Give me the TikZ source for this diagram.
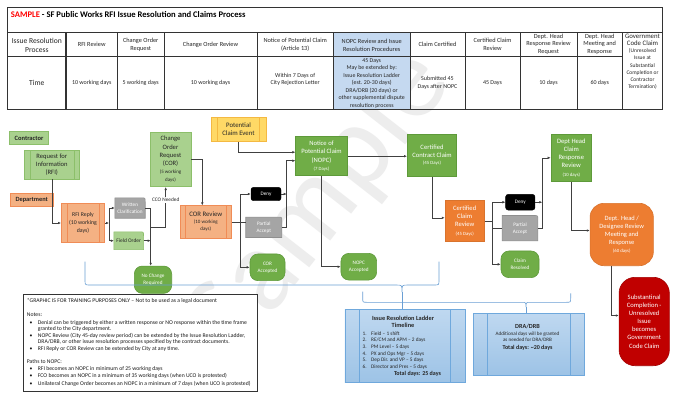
\documentclass[tikz,border=0pt]{standalone}
\usepackage{fontspec}
\setmainfont{Carlito}
\usetikzlibrary{arrows.meta,backgrounds}
\definecolor{lgreen}{HTML}{A9D18E}
\definecolor{lgreenb}{HTML}{8CBF6A}
\definecolor{dgreen}{HTML}{70AD47}
\definecolor{dgreenb}{HTML}{5E9A3A}
\definecolor{salmon}{HTML}{F4B183}
\definecolor{salmonb}{HTML}{F08C56}
\definecolor{orng}{HTML}{ED7D31}
\definecolor{orngb}{HTML}{D9732D}
\definecolor{gry}{HTML}{A5A5A5}
\definecolor{gryb}{HTML}{8F8F8F}
\definecolor{ylw}{HTML}{FFD966}
\definecolor{ylwb}{HTML}{F4B942}
\definecolor{rd}{HTML}{C00000}
\definecolor{bluef}{HTML}{9DC3E6}
\definecolor{bluet}{HTML}{BFD8F0}
\definecolor{blueb}{HTML}{6FA8DC}
\definecolor{tblue}{HTML}{C5D9F0}
\definecolor{brc}{HTML}{6A9FD4}
\definecolor{lnk}{HTML}{404040}
\definecolor{titlered}{HTML}{FF0000}
\newcommand\myfs[2]{\fontsize{#1}{#2}\selectfont}
\newcommand\rtrshape[3]{%
  \path[fill=#2, draw=#3, line width=0.6pt] (#1.south west) -- (#1.north west)
    -- ([xshift=-4pt]#1.north east) .. controls (#1.north east) .. ([yshift=-4pt]#1.north east)
    -- (#1.south east) -- cycle;}
\pgfdeclarelayer{wmark}
\pgfdeclarelayer{bgl}
\pgfsetlayers{wmark,bgl,main}
\tikzset{
  pdin/.store in=\pdinset, pdin=5.5pt,
  bx/.style={inner sep=0.5pt, align=center},
  predef/.style={path picture={\draw[#1, line width=0.5pt]
     ([xshift=\pdinset]path picture bounding box.north west) -- ([xshift=\pdinset]path picture bounding box.south west)
     ([xshift=-\pdinset]path picture bounding box.north east) -- ([xshift=-\pdinset]path picture bounding box.south east);}},
  lgbox/.style={bx, draw=lgreenb, fill=lgreen, line width=0.6pt, text=black!85},
  sabox/.style={bx, draw=salmonb, fill=salmon, line width=0.6pt, text=black!85},
  dgbox/.style={bx, draw=dgreenb, fill=dgreen, line width=0.6pt, text=white},
  ogbox/.style={bx, draw=orngb, fill=orng, line width=0.6pt, text=white},
  termbox/.style={dgbox, rounded corners=8pt, font=\myfs{5.2}{7}},
  denybox/.style={bx, fill=black, draw=black, rounded corners=2.5pt, text=white, font=\myfs{5.2}{6}},
  pabox/.style={bx, text=white, font=\myfs{5.2}{7}},
  bluebox/.style={bx, draw=blueb, line width=0.6pt, top color=bluet, bottom color=bluef, predef=blueb},
  arr/.style={draw=lnk, line width=0.6pt, -{Latex[length=3pt,width=2.6pt]}},
  ln/.style={draw=lnk, line width=0.6pt},
  brace/.style={draw=brc, line width=0.6pt},
  tline/.style={draw=black!80, line width=0.6pt},
  hd/.style={bx, font=\myfs{6.3}{7.8}, text=black!85},
  dt/.style={bx, font=\myfs{6}{7.6}, text=black!85},
  nt/.style={anchor=base west, inner sep=0, font=\myfs{5.7}{6.5}, text=black!90},
}
\begin{document}
\begin{tikzpicture}[x=1pt,y=-1pt]
\useasboundingbox (0,0) rectangle (674,397);

% watermark
\begin{pgfonlayer}{wmark}
\fill[white] (0,0) rectangle (674,397);
\node[text=black!7, font=\myfs{118}{118}, rotate=52, inner sep=0] (wm) at (320,203) {Sample};
\end{pgfonlayer}

% ---------- table ----------
\fill[tblue] (333.5,32.3) rectangle (410,109.3);
\draw[draw=black!80, line width=0.9pt] (7.5,7.5) rectangle (662.5,109.3);
\draw[tline] (7.5,32.3) -- (662.5,32.3);
\draw[tline] (7.5,56.7) -- (622.5,56.7);
\draw[draw=black!80, line width=1.2pt] (66,32.3) -- (66,109.3);
\draw[draw=black!80, line width=1.2pt] (7.5,32.3) -- (7.5,109.3);
\foreach \cx in {117.5,164,257,333.5,410,465,520,577,622.5}
  \draw[tline] (\cx,32.3) -- (\cx,109.3);

\node[anchor=west, inner sep=0, font=\bfseries\myfs{8.6}{10}] (title) at (10.7,14.5)
  {\textcolor{titlered}{SAMPLE} - SF Public Works RFI Issue Resolution and Claims Process};

\node[hd, font=\myfs{7.6}{9.3}] (h1) at (36.8,45.3) {Issue Resolution\\Process};
\node[hd] (h2) at (91.7,44.5) {RFI Review};
\node[hd] (h3) at (140.7,44.5) {Change Order\\Request};
\node[hd] (h4) at (210.5,44.5) {Change Order Review};
\node[hd] (h5) at (295.2,44.5) {Notice of Potential Claim\\(Article 13)};
\node[hd] (h6) at (371.7,45) {NOPC Review and Issue\\Resolution Procedures};
\node[hd] (h7) at (437.5,44.5) {Claim Certified};
\node[hd] (h8) at (492.5,44.5) {Certified Claim\\Review};
\node[hd, font=\myfs{6.3}{7.5}] (h9) at (548.5,44.2) {Dept. Head\\Response Review\\Request};
\node[hd, font=\myfs{6.3}{7.5}] (h10) at (599.7,44.2) {Dept. Head\\Meeting and\\Response};
\node[hd, font=\myfs{5.5}{7.1}] (h11) at (642.5,61.7) {{\myfs{6.8}{7.1}Government}\\{\myfs{6.8}{7.1}Code Claim}\\(Unresolved\\Issue at\\Substantial\\Completion or\\Contractor\\Termination)};

\node[dt, font=\myfs{7.6}{9}] (d1) at (36.8,83) {Time};
\node[dt] (d2) at (91.7,83) {10 working days};
\node[dt] (d3) at (140.7,83) {5 working days};
\node[dt] (d4) at (210.5,83) {10 working days};
\node[dt] (d5) at (295.2,79.5) {Within 7 Days of\\City Rejection Letter};
\node[dt, font=\myfs{5.9}{7.55}] (d6) at (371.7,83.3) {45 Days\\May be extended by:\\Issue Resolution Ladder\\(est. 20-30 days)\\DRA/DRB (20 days) or\\other supplemental dispute\\resolution process};
\node[dt, font=\myfs{6}{8}] (d7) at (437.5,83.3) {Submitted 45\\Days after NOPC};
\node[dt] (d8) at (492.5,83) {45 Days};
\node[dt] (d9) at (548.5,83) {10 days};
\node[dt] (d10) at (599.7,83) {60 days};

% ---------- flowchart nodes ----------
\node[lgbox, font=\bfseries\myfs{6.5}{8}, minimum width=39.4, minimum height=12.6] (contractor) at (29,138) {Contractor};
\node[lgbox, predef=lgreenb, font=\myfs{6.6}{8}, minimum width=55, minimum height=29] (rfi) at (51.8,164.5) {Request for\\Information\\(RFI)};
\node[sabox, font=\bfseries\myfs{6.4}{8}, minimum width=43.3, minimum height=13.4] (dept) at (31.7,200) {Department};
\node[sabox, predef=salmonb, font=\myfs{5.8}{7.8}, minimum width=43.4, minimum height=39.4] (rfireply) at (83,223) {RFI Reply\\(10 working\\days)};
\node[bx, font=\myfs{5.2}{6.6}, text=white, minimum width=30, minimum height=20] (wc) at (130,208) {Written\\Clarification};
\node[bx, font=\myfs{5.4}{6.5}, text=black!85, minimum width=29.3, minimum height=17.3] (fo) at (128.7,240.7) {Field Order};
\node[termbox, minimum width=37.4, minimum height=27.3] (ncr) at (153,279.7) {No Change\\Required};
\node[lgbox, font=\myfs{6.6}{8.2}, minimum width=41, minimum height=54.4] (cor) at (170.5,159.5) {Change\\Order\\Request\\(COR)\\{\myfs{5}{6}(5 working}\\{\myfs{5}{6}days)}};
\node[sabox, predef=salmonb, font=\myfs{6.8}{7}, minimum width=51.7, minimum height=32.6] (correv) at (205.8,222) {COR Review\\{\myfs{5}{6}(10 working}\\{\myfs{5}{6}days)}};
\node[bx, draw=ylwb, fill=ylw, predef=ylwb, pdin=6.5pt, line width=0.6pt, font=\myfs{6.8}{8}, text=black!85, minimum width=55, minimum height=24.4] (pce) at (238.5,129.5) {Potential\\Claim Event};
\node[dgbox, font=\myfs{6.6}{8.3}, minimum width=51.6, minimum height=39] (nopc) at (321.5,156.2) {Notice of\\Potential Claim\\(NOPC)\\{\myfs{4.8}{6}(7 Days)}};
\node[denybox, minimum width=30, minimum height=13.4] (deny1) at (266,194) {Deny};
\node[pabox, minimum width=35.7, minimum height=20] (pa1) at (263.8,227.3) {Partial\\Accept};
\node[termbox, minimum width=35, minimum height=26.7] (coracc) at (267.5,267.3) {COR\\Accepted};
\node[termbox, minimum width=35.7, minimum height=26.7] (nopcacc) at (358.8,266.7) {NOPC\\Accepted};
\node[dgbox, font=\myfs{6.6}{7.7}, minimum width=49.4, minimum height=42.7] (ccc) at (432,155.3) {Certified\\Contract Claim\\{\myfs{4.8}{6}(45 Days)}};
\node[ogbox, font=\myfs{6.6}{8.3}, minimum width=39.3, minimum height=40.3] (ccr) at (464.7,220.8) {Certified\\Claim\\Review\\{\myfs{4.8}{6}(45 Days)}};
\node[denybox, minimum width=29.3, minimum height=15.7] (deny2) at (520.3,202.2) {Deny};
\node[pabox, minimum width=35.4, minimum height=25] (pa2) at (520,228.2) {Partial\\Accept};
\node[termbox, minimum width=38, minimum height=26.7] (cres) at (520,264.3) {Claim\\Resolved};
\node[dgbox, font=\myfs{6.6}{8.2}, minimum width=40.7, minimum height=47.7] (dhcrr) at (571.3,157.8) {Dept Head\\Claim\\Response\\Review\\{\myfs{4.8}{6}(10 days)}};
\node[ogbox, rounded corners=14pt, font=\myfs{6.5}{8}, minimum width=63.3, minimum height=62.4] (dhd) at (621.7,234.5) {Dept. Head /\\Designee Review\\Meeting and\\Response\\{\myfs{4.8}{6}(60 days)}};
\node[bx, draw=rd!85!black, fill=rd, line width=0.6pt, text=white, rounded corners=16pt, font=\myfs{6.6}{8.1}, minimum width=50.3, minimum height=88.4] (sc) at (644.2,321.5) {Substantinal\\Completion -\\Unresolved\\Issue\\becomes\\Government\\Code Claim};

\begin{pgfonlayer}{bgl}
\rtrshape{wc}{gry}{gryb}
\rtrshape{fo}{lgreen}{lgreenb}
\rtrshape{pa1}{gry}{gryb}
\rtrshape{pa2}{gry}{gryb}
\end{pgfonlayer}

% ---------- connectors ----------
\coordinate (j1) at (109,223);
\coordinate (j2) at (150.7,227.3);
\coordinate (j3) at (165.7,227.3);
\coordinate (j4) at (240,222);
\coordinate (j5) at (286.7,160.7);
\coordinate (j6) at (492.7,220.8);
\coordinate (j7) at (542.3,157.8);

\draw[arr] (rfi.south) |- (rfireply.west);
\draw[arr] (rfireply.east) -- (j1);
\draw[arr] (j1) |- (wc.west);
\draw[arr] (j1) |- (fo.west);
\draw[arr] (wc.east) -| (j2 |- ncr.north);
\draw[arr] (fo.east) -- (fo.east -| j2);
\draw[arr] (j2) -- (j3) -- (j3 |- cor.south);
\node[fill=white, inner sep=0.8pt, font=\myfs{5.3}{6}, text=black!85] (cco) at (165.7,200) {CCO Needed};
\draw[arr] (cor.east) -| ([xshift=-3.5pt]correv.north);
\draw[arr] (pce.south) |- ([yshift=4pt]nopc.west);
\draw[ln] (correv.east) -- (correv.east -| pa1.west);
\draw[arr] (j4) |- (deny1.west);
\draw[arr] (j4) |- (coracc.west);
\draw[arr] (deny1.east) -- (deny1.east -| j5);
\draw[arr] (pa1.east) -| (j5) -- (j5 -| nopc.west);
\draw[arr] (nopc.south) |- (nopcacc.west);
\draw[arr] (nopc.east) -- (nopc.east -| ccc.west);
\draw[arr] (ccc.south) |- ([yshift=3pt]ccr.west);
\draw[ln] (ccr.east) -- (j6);
\draw[ln] (j6) |- (pa2.west);
\draw[arr] (j6) |- (deny2.west);
\draw[arr] (j6) |- (cres.west);
\draw[arr] (deny2.east) -- (deny2.east -| j7);
\draw[arr] (pa2.east) -| (j7) -- (dhcrr.west);
\draw[arr] (dhcrr.south) |- ([yshift=4pt]dhd.west);
\draw[arr] ([xshift=-10pt]dhd.south) |- ([yshift=6pt]sc.west);

% ---------- braces ----------
\draw[brace] (85,261.7) -- (85,280) .. controls (85,285) .. (90,285) -- (396,285)
   .. controls (402,285) .. (402,292) .. controls (402,285) .. (408,285) -- (434,285)
   .. controls (439,285) .. (439,280) -- (439,261.7);
\draw[brace] (402,292) -- (402,309.5);
\draw[brace] (362.7,291.7) -- (362.7,298) .. controls (362.7,302.3) .. (367,302.3) -- (521,302.3)
   .. controls (526,302.3) .. (526,307) .. controls (526,302.3) .. (531,302.3) -- (566,302.3)
   .. controls (570.7,302.3) .. (570.7,298) -- (570.7,293.3);
\draw[brace] (526,307) -- (526,313.3);

% ---------- blue boxes ----------
\node[bluebox, pdin=14.5pt, minimum width=120, minimum height=73] (ladder) at (404.8,346) {};
\node[bx, font=\bfseries\myfs{6.3}{7.4}, text=black!85] (ladt) at (403,322) {Issue Resolution Ladder\\Timeline};
\node[anchor=north west, inner sep=0, font=\myfs{5.3}{6.7}, text=black!85] (ladl) at (362.5,330.3)
  {\begin{tabular}{@{}r@{\hspace{4.5pt}}l@{}}1.&Field – 1 shift\\2.&RE/CM and APM – 2 days\\3.&PM Level – 5 days\\4.&PX and Ops Mgr – 5 days\\5.&Dep Dir. and VP – 5 days\\6.&Director and Pres – 5 days\end{tabular}};
\node[bx, font=\bfseries\myfs{6}{7}, text=black!85] (ladtot) at (417.5,374.3) {Total days: 25 days};

\node[bluebox, pdin=14pt, minimum width=111, minimum height=61.7] (dra) at (528.5,344.2) {};
\node[bx, font=\bfseries\myfs{6.2}{7}, text=black!85] (drat) at (527.5,326) {DRA/DRB};
\node[bx, font=\myfs{5.1}{6.7}, text=black!85] (drab) at (527.5,336.7) {Additional days will be granted\\as needed for DRA/DRB};
\node[bx, font=\bfseries\myfs{6}{7}, text=black!85] (dratot) at (527.5,348.3) {Total days: \textasciitilde 20 days};

% ---------- notes ----------
\node[draw=black!80, fill=white, line width=0.6pt, minimum width=234, minimum height=97, inner sep=0] (notes) at (140.5,342.5) {};
\node[nt] (n1) at (26.7,302.3) {*GRAPHIC IS FOR TRAINING PURPOSES ONLY – Not to be used as a legal document};
\node[nt] (n2) at (26.7,316.3) {Notes:};
\node[nt] (n3) at (29.3,324.1) {\makebox[8.4pt][l]{•}Denial can be triggered by either a written response or NO response within the time frame};
\node[nt] (n4) at (37.7,330.5) {granted to the City department.};
\node[nt] (n5) at (29.3,337.2) {\makebox[8.4pt][l]{•}NOPC Review (City 45-day review period) can be extended by the Issue Resolution Ladder,};
\node[nt] (n6) at (37.7,343.7) {DRA/DRB, or other issue resolution processes specified by the contract documents.};
\node[nt] (n7) at (29.3,350.3) {\makebox[8.4pt][l]{•}RFI Reply or COR Review can be extended by City at any time.};
\node[nt] (n8) at (26.7,363.3) {Paths to NOPC:};
\node[nt] (n9) at (29.3,370.3) {\makebox[8.4pt][l]{•}RFI becomes an NOPC in minimum of 25 working days};
\node[nt] (n10) at (29.3,377.6) {\makebox[8.4pt][l]{•}FCO becomes an NOPC in a minimum of 35 working days (when UCO is protested)};
\node[nt] (n11) at (29.3,385.1) {\makebox[8.4pt][l]{•}Unilateral Change Order becomes an NOPC in a minimum of 7 days (when UCO is protested)};
\end{tikzpicture}
\end{document}
